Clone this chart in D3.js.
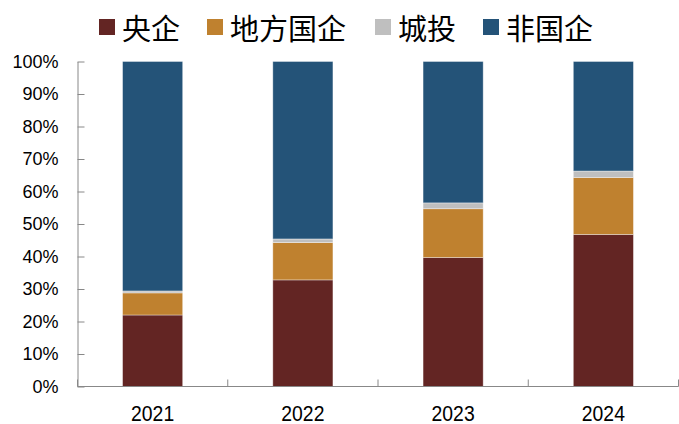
<!DOCTYPE html>
<html><head><meta charset="utf-8">
<script src="https://cdn.jsdelivr.net/npm/d3@7"></script>
<style>body{margin:0;background:#fff}</style>
</head><body>
<svg id="c" width="679" height="424"></svg>
<script>
const years = ["2021","2022","2023","2024"];
const seriesNames = ["央企","地方国企","城投","非国企"];
const central = [22.0, 32.8, 39.7, 46.8];
const localSOE = [6.8, 11.5, 15.0, 17.5];
const lgfv = [0.6, 1.1, 1.8, 2.0];
const nonSOE = [70.6, 54.6, 43.5, 33.7];
const yTicks = [0,10,20,30,40,50,60,70,80,90,100];
const colors = ["#632523","#BF812F","#BFBFBF","#245378"];

const svg = d3.select("#c");
const x = d3.scaleBand().domain(years).range([77.5, 678.5]).paddingInner(0.6).paddingOuter(0.3);
const y = d3.scaleLinear().domain([0,100]).range([386.5, 61.5]);

const rows = years.map((yr,i)=>({year:yr, "央企":central[i], "地方国企":localSOE[i], "城投":lgfv[i], "非国企":nonSOE[i]}));
const stack = d3.stack().keys(seriesNames)(rows);

stack.forEach((s,si)=>{
  svg.append("g").selectAll("rect").data(s).join("rect")
    .attr("x", d=>x(d.data.year))
    .attr("width", x.bandwidth())
    .attr("y", d=>y(d[1]))
    .attr("height", d=>y(d[0])-y(d[1]))
    .attr("fill", colors[si])
    .attr("stroke","rgba(255,255,255,0.45)")
    .attr("stroke-width",0.8);
});

// y axis
const ya = svg.append("g").attr("transform","translate(77.5,0)")
  .call(d3.axisLeft(y).tickValues(yTicks).tickFormat(d=>d+"%").tickSizeInner(-7).tickSizeOuter(0).tickPadding(19));
ya.select(".domain").attr("stroke","#888");
ya.selectAll(".tick line").attr("stroke","#888");
ya.selectAll("text").attr("font-family","'Liberation Sans', Arial, sans-serif").attr("font-size",18).attr("fill","#000");

// x axis
const xa = svg.append("g").attr("transform","translate(0,386.5)");
xa.append("line").attr("x1",77.5).attr("x2",678.5).attr("stroke","#888");
const step = x.step();
const bounds = d3.range(years.length+1).map(i=>77.5+i*step);
xa.selectAll("line.t").data(bounds).join("line").attr("class","t")
  .attr("x1",d=>d).attr("x2",d=>d).attr("y1",0).attr("y2",-7).attr("stroke","#888");
xa.selectAll("text").data(years).join("text")
  .attr("transform",d=>`translate(${x(d)+x.bandwidth()/2},34.5) scale(0.88,1)`)
  .attr("text-anchor","middle")
  .attr("font-family","'Liberation Sans', Arial, sans-serif").attr("font-size",22).attr("fill","#000")
  .text(d=>d);

// legend
const legX = [99, 207, 375, 483];
const lg = svg.append("g");
seriesNames.forEach((n,i)=>{
  lg.append("rect").attr("x",legX[i]).attr("y",19).attr("width",16).attr("height",16).attr("fill",colors[i]);
  lg.append("text").attr("x",legX[i]+23).attr("y",27).attr("dominant-baseline","central")
    .attr("font-family","'Noto Sans CJK SC', sans-serif").attr("font-size",29).attr("fill","#000").text(n);
});
</script>
</body></html>
